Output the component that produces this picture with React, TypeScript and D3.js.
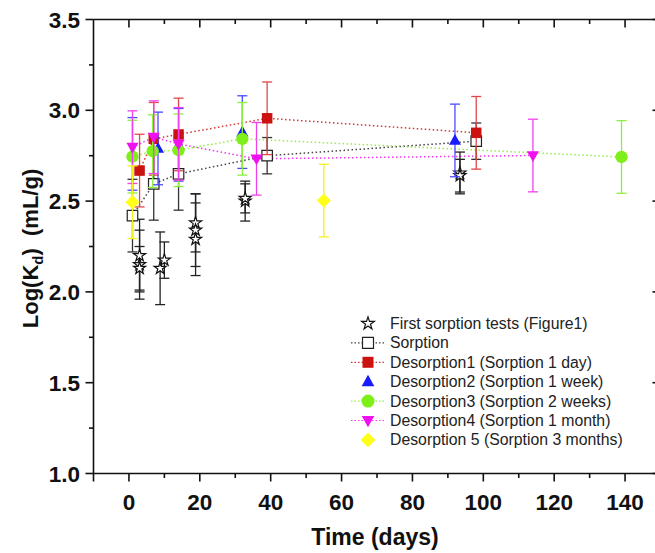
import React from "react";
import * as d3 from "d3";

// ---------- data ----------
// First sorption tests (Figure 1)
const starDays = [3, 3, 3, 8.8, 10, 18.8, 18.8, 18.8, 32.8, 32.8, 93.4, 93.4];
const starVals = [2.2, 2.15, 2.13, 2.13, 2.175, 2.38, 2.34, 2.29, 2.5, 2.515, 2.655, 2.64];
const starErrs = [0.2, 0.19, 0.12, 0.2, 0.1, 0.16, 0.2, 0.2, 0.11, 0.08, 0.115, 0.09];

const sorpDays = [1, 7, 14, 39, 98];
const sorpVals = [2.42, 2.595, 2.65, 2.75, 2.83];
const sorpErrs = [0.2, 0.2, 0.2, 0.1, 0.1];

const des1Days = [3, 7, 14, 39, 98];
const des1Vals = [2.668, 2.843, 2.867, 2.956, 2.876];
const des1Errs = [0.2, 0.2, 0.2, 0.2, 0.2];

const des2Days = [1, 8.2, 14, 32, 92];
const des2Vals = [2.76, 2.79, 2.81, 2.88, 2.834];
const des2Errs = [0.2, 0.2, 0.2, 0.2, 0.2];

const des3Days = [1, 6.7, 14, 32, 139];
const des3Vals = [2.745, 2.775, 2.78, 2.843, 2.743];
const des3Errs = [0.2, 0.2, 0.2, 0.2, 0.2];

const des4Days = [1, 7, 14, 36, 114];
const des4Vals = [2.797, 2.852, 2.815, 2.733, 2.751];
const des4Errs = [0.2, 0.2, 0.2, 0.2, 0.2];

const des5Days = [1, 55];
const des5Vals = [2.494, 2.503];
const des5Errs = [0.2, 0.2];

const xTicks = [0, 20, 40, 60, 80, 100, 120, 140];
const xMinor = [10, 30, 50, 70, 90, 110, 130];
const yTicks = [1.0, 1.5, 2.0, 2.5, 3.0, 3.5];
const yMinor = [1.25, 1.75, 2.25, 2.75, 3.25];

const legendLabels = [
  "First sorption tests (Figure1)",
  "Sorption",
  "Desorption1 (Sorption 1 day)",
  "Desorption2 (Sorption 1 week)",
  "Desorption3 (Sorption 2 weeks)",
  "Desorption4 (Sorption 1 month)",
  "Desorption 5 (Sorption 3 months)",
];

type Pt = { d: number; v: number; e: number };
const zip = (ds: number[], vs: number[], es: number[]): Pt[] =>
  ds.map((d, i) => ({ d, v: vs[i], e: es[i] }));

type Series = {
  pts: Pt[];
  color: string;
  errColor: string;
  fill: string;
  shape: string;
  line: boolean;
  size: number;
};

const series: Series[] = [
  { pts: zip(starDays, starVals, starErrs), color: "#111", errColor: "#222", fill: "#fff", shape: "star", line: false, size: 100 },
  { pts: zip(sorpDays, sorpVals, sorpErrs), color: "#222", errColor: "#333", fill: "#fff", shape: "square", line: true, size: 110 },
  { pts: zip(des1Days, des1Vals, des1Errs), color: "#cc1111", errColor: "#e04848", fill: "#cc1111", shape: "square", line: true, size: 110 },
  { pts: zip(des2Days, des2Vals, des2Errs), color: "#1a1aff", errColor: "#4a4aff", fill: "#1a1aff", shape: "triUp", line: false, size: 110 },
  { pts: zip(des3Days, des3Vals, des3Errs), color: "#7fef1a", errColor: "#8cf040", fill: "#7fef1a", shape: "circle", line: true, size: 120 },
  { pts: zip(des4Days, des4Vals, des4Errs), color: "#f010f0", errColor: "#f040f0", fill: "#f010f0", shape: "triDown", line: true, size: 110 },
  { pts: zip(des5Days, des5Vals, des5Errs), color: "#ffff1a", errColor: "#f5f020", fill: "#ffff1a", shape: "diamond", line: false, size: 130 },
];

function symbolPath(shape: string, size: number): string {
  if (shape === "star") return d3.symbol().type(d3.symbolStar).size(size * 0.45)()!;
  if (shape === "square") return d3.symbol().type(d3.symbolSquare).size(size)()!;
  if (shape === "circle") return d3.symbol().type(d3.symbolCircle).size(size)()!;
  if (shape === "diamond") {
    const r = Math.sqrt(size) * 0.62;
    return `M0,${-r}L${r},0L0,${r}L${-r},0Z`;
  }
  const s = Math.sqrt(size) * 1.15;
  const h = s * 0.9;
  if (shape === "triUp") return `M0,${-h * 0.6}L${s / 2},${h * 0.4}L${-s / 2},${h * 0.4}Z`;
  return `M0,${h * 0.6}L${s / 2},${-h * 0.4}L${-s / 2},${-h * 0.4}Z`;
}

export default function App() {
  const W = 655;
  const H = 553;
  const x = d3.scaleLinear().domain([-10, 150]).range([93.5, 660.5]);
  const y = d3.scaleLinear().domain([1, 3.5]).range([473.5, 19.5]);
  const left = x(-10);
  const right = x(150);
  const top = y(3.5);
  const bottom = y(1);
  const line = d3
    .line<Pt>()
    .x((p) => x(p.d))
    .y((p) => y(p.v));
  const font = "Arial, 'Liberation Sans', Helvetica, sans-serif";
  const cap = 5;
  const legX = 368;
  const legY0 = 323.5;
  const legDy = 19.4;

  return (
    <svg
      width={W}
      height={H}
      style={{ position: "absolute", left: 0, top: 0, background: "#fff" }}
      fontFamily={font}
    >
      <rect x={0} y={0} width={W} height={H} fill="#fff" />
      {/* connecting dotted lines */}
      {series.map((s, i) =>
        s.line ? (
          <path
            key={"l" + i}
            d={line(s.pts)!}
            fill="none"
            stroke={s.color}
            strokeWidth={1.5}
            strokeDasharray="1.5,2.5"
            opacity={0.85}
          />
        ) : null
      )}
      {/* error bars + markers */}
      {series.map((s, i) => (
        <g key={"s" + i}>
          {s.pts.map((p, j) => (
            <g key={j} stroke={s.errColor} strokeWidth={1.3}>
              <line x1={x(p.d)} x2={x(p.d)} y1={y(p.v + p.e)} y2={y(p.v - p.e)} />
              <line x1={x(p.d) - cap} x2={x(p.d) + cap} y1={y(p.v + p.e)} y2={y(p.v + p.e)} />
              <line x1={x(p.d) - cap} x2={x(p.d) + cap} y1={y(p.v - p.e)} y2={y(p.v - p.e)} />
            </g>
          ))}
          {s.pts.map((p, j) => (
            <path
              key={"m" + j}
              d={symbolPath(s.shape, s.size)}
              transform={`translate(${x(p.d)},${y(p.v)})`}
              fill={s.fill}
              stroke={s.shape === "star" || s.fill === "#fff" ? s.color : "none"}
              strokeWidth={1.2}
            />
          ))}
        </g>
      ))}
      {/* frame */}
      <g stroke="#111" strokeWidth={1.6} fill="none">
        <line x1={left} x2={right} y1={bottom} y2={bottom} />
        <line x1={left} x2={right} y1={top} y2={top} />
        <line x1={left} x2={left} y1={top} y2={bottom + 8} />
        <line x1={right} x2={right} y1={top} y2={bottom} />
        {xTicks.map((t) => (
          <g key={"xt" + t}>
            <line x1={x(t)} x2={x(t)} y1={bottom} y2={bottom + 8} />
            <line x1={x(t)} x2={x(t)} y1={top} y2={top + 8} />
          </g>
        ))}
        {xMinor.map((t) => (
          <g key={"xm" + t}>
            <line x1={x(t)} x2={x(t)} y1={bottom} y2={bottom + 4.5} />
            <line x1={x(t)} x2={x(t)} y1={top} y2={top + 4.5} />
          </g>
        ))}
        {yTicks.map((t) => (
          <g key={"yt" + t}>
            <line x1={left - 8} x2={left} y1={y(t)} y2={y(t)} />
            <line x1={right - 8} x2={right} y1={y(t)} y2={y(t)} />
          </g>
        ))}
        {yMinor.map((t) => (
          <g key={"ym" + t}>
            <line x1={left - 4.5} x2={left} y1={y(t)} y2={y(t)} />
            <line x1={right - 4.5} x2={right} y1={y(t)} y2={y(t)} />
          </g>
        ))}
      </g>
      {/* tick labels */}
      {xTicks.map((t) => (
        <text
          key={"xl" + t}
          x={x(t)}
          y={510}
          textAnchor="middle"
          fontSize={22.5}
          fontWeight="bold"
          fill="#111"
        >
          {t}
        </text>
      ))}
      {yTicks.map((t) => (
        <text
          key={"yl" + t}
          x={80}
          y={y(t) + 8}
          textAnchor="end"
          fontSize={22.5}
          fontWeight="bold"
          fill="#111"
        >
          {t.toFixed(1)}
        </text>
      ))}
      {/* axis titles */}
      <text
        x={(left + right) / 2 - 2}
        y={545}
        textAnchor="middle"
        fontSize={23}
        fontWeight="bold"
        fill="#111"
      >
        Time (days)
      </text>
      <text
        transform={`translate(38,${(top + bottom) / 2 + 2}) rotate(-90)`}
        textAnchor="middle"
        fontSize={22}
        fontWeight="bold"
        fill="#111"
        style={{ whiteSpace: "pre" }}
      >
        Log(K
        <tspan fontSize={15} dy={5}>d</tspan>
        <tspan dy={-5}>{")  (mL/g)"}</tspan>
      </text>
      {/* legend */}
      {series.map((s, i) => {
        const ly = legY0 + i * legDy;
        return (
          <g key={"lg" + i}>
            {s.line ? (
              <line
                x1={legX - 17}
                x2={legX + 16}
                y1={ly}
                y2={ly}
                stroke={s.color}
                strokeWidth={1.2}
                strokeDasharray="1.5,2"
                opacity={0.85}
              />
            ) : null}
            <path
              d={symbolPath(s.shape, s.size * 1.1)}
              transform={`translate(${legX},${ly})`}
              fill={s.fill}
              stroke={s.shape === "star" || s.fill === "#fff" ? s.color : "none"}
              strokeWidth={1.2}
            />
            <text x={390} y={ly + 5.5} fontSize={15.8} fill="#222">
              {legendLabels[i]}
            </text>
          </g>
        );
      })}
    </svg>
  );
}
